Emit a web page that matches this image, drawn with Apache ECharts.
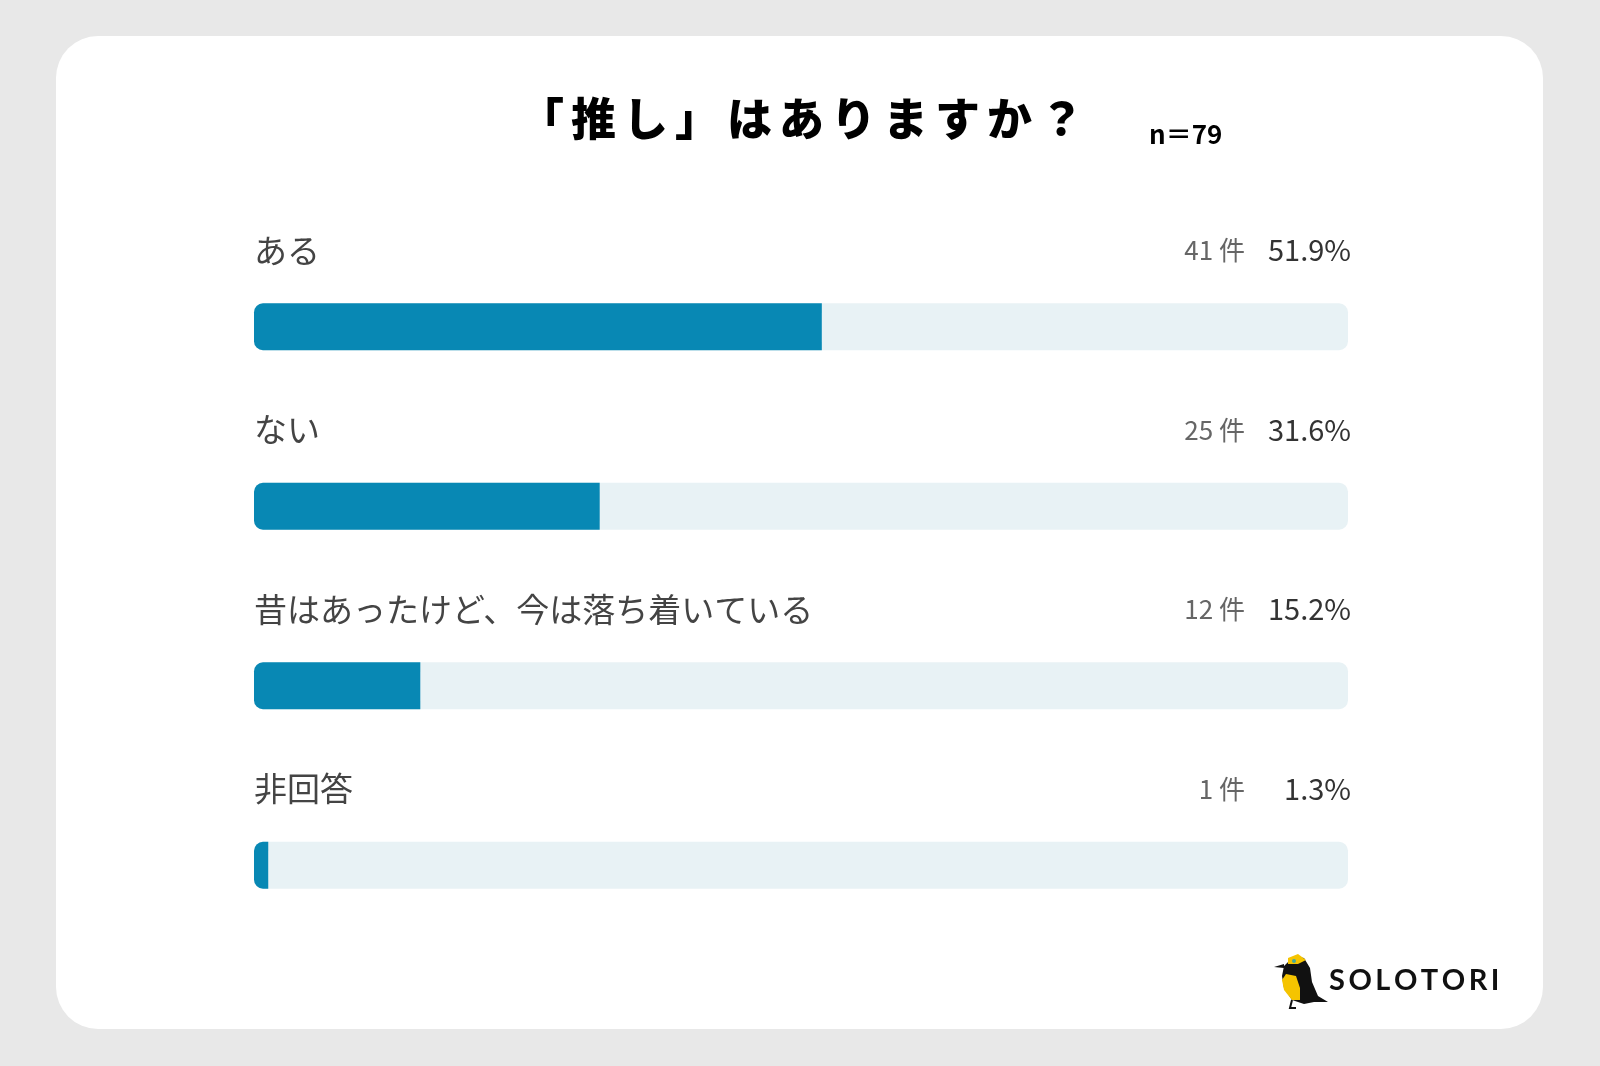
<!DOCTYPE html>
<html><head><meta charset="utf-8">
<script src="https://cdn.jsdelivr.net/npm/echarts@6/dist/echarts.min.js"></script>
<style>html,body{margin:0;padding:0;background:#e8e8e8;}#c{width:1600px;height:1066px;}</style>
</head><body><div id="c"></div>
<script>
const categories = ['ある', 'ない', '昔はあったけど、今は落ち着いている', '非回答'];
const counts = [41, 25, 12, 1];
const percents = [51.9, 31.6, 15.2, 1.3];
const sampleSize = 79;
const trackValues = [100, 100, 100, 100];
const titleText = '「推し」はありますか？';
const brandText = 'SOLOTORI';

const JP = '"Noto Sans CJK JP", "Noto Sans", sans-serif';
const ctx = document.createElement('canvas').getContext('2d');

// lay out text one character at a time with extra letter spacing
function spacedText(str, x, y, font, fill, spacing) {
  ctx.font = font;
  const els = [];
  let cx = x;
  for (const ch of str) {
    els.push({ type: 'text', x: cx, y: y, style: { text: ch, font: font, fill: fill, textVerticalAlign: 'middle' } });
    cx += ctx.measureText(ch).width + spacing;
  }
  return els;
}

const chart = echarts.init(document.getElementById('c'));

const titleFont = '900 45px ' + JP;
const brandFont = 'bold 29px "Lato", "Open Sans", sans-serif';

chart.setOption({
  backgroundColor: '#e8e8e8',
  animation: false,
  graphic: [
    { type: 'rect', z: -10, shape: { x: 56, y: 36, width: 1487, height: 993, r: 42 }, style: { fill: '#ffffff' } },
    ...spacedText(titleText, 519, 119, titleFont, '#000', 7),
    { type: 'text', x: 1149, y: 134, style: { text: 'n＝' + sampleSize, font: 'bold 26px ' + JP, fill: '#000', textVerticalAlign: 'middle' } },
    // logo bird
    { type: 'group', x: 1274, y: 952, children: [
      { type: 'polygon', shape: { points: [[10,14],[20,4],[30,6],[36,16],[38,30],[44,44],[54,50],[40,50],[30,52],[18,48],[10,36],[8,24]] }, style: { fill: '#111' } },
      { type: 'polygon', shape: { points: [[12,22],[22,24],[26,36],[26,48],[18,48],[10,38],[8,28]] }, style: { fill: '#f5c400' } },
      { type: 'polygon', shape: { points: [[14,6],[24,2],[32,8],[24,12],[14,12]] }, style: { fill: '#f5c400' } },
      { type: 'polygon', shape: { points: [[10,12],[0,15],[10,16]] }, style: { fill: '#111' } },
      { type: 'circle', shape: { cx: 20, cy: 9, r: 2 }, style: { fill: '#4a9' } },
      { type: 'polyline', shape: { points: [[18,48],[16,56],[22,56]] }, style: { stroke: '#111', lineWidth: 2, fill: null } }
    ]},
    ...spacedText(brandText, 1329, 981, brandFont, '#111', 3.5)
  ],
  grid: { left: 254, right: 252, top: 237, bottom: 111 },
  xAxis: { type: 'value', min: 0, max: 100, show: false },
  yAxis: { type: 'category', data: categories, inverse: true, show: false },
  series: [
    {
      type: 'bar', data: trackValues, barWidth: 47, silent: true,
      itemStyle: { color: '#e8f2f5', borderRadius: 9 },
      label: {
        show: true, position: ['100%', -53], align: 'right', verticalAlign: 'middle', offset: [3, 0],
        formatter: (p) => '{c|' + counts[p.dataIndex] + ' 件}{p|' + percents[p.dataIndex].toFixed(1) + '%}',
        rich: {
          c: { fontFamily: JP, fontSize: 26, color: '#666' },
          p: { fontFamily: JP, fontSize: 29, color: '#333', width: 106, align: 'right' }
        }
      }
    },
    {
      type: 'bar', data: percents, barWidth: 47, barGap: '-100%',
      itemStyle: { color: '#0888b4', borderRadius: [9, 0, 0, 9] },
      label: {
        show: true, position: [0, -53], align: 'left', verticalAlign: 'middle',
        formatter: (p) => categories[p.dataIndex],
        fontFamily: JP, fontSize: 33, color: '#444'
      }
    }
  ]
});
</script></body></html>
